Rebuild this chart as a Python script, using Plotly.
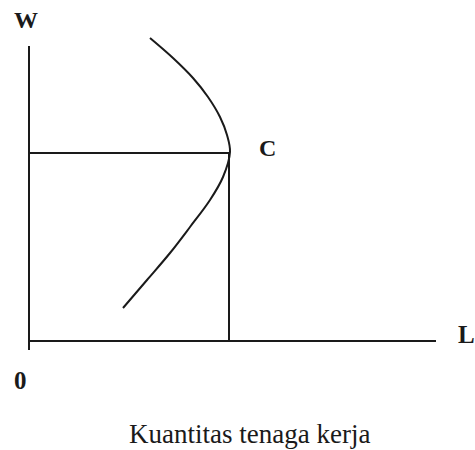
import plotly.graph_objects as go

# labour supply curve (backward bending), L on x, W on y
supply_L = [121, 144, 164, 179, 191, 198, 201, 194, 181, 161, 141, 118, 94]
supply_W = [303, 283, 263, 244, 224, 206, 189, 164, 141, 114, 88, 61, 33]

# equilibrium point C
c_L = 200
c_W = 188

# axis extents
w_axis_top = 295
w_axis_bottom = -9
l_axis_end = 407

serif = "Liberation Serif, Times New Roman, serif"
ink = "#1a1a1a"

fig = go.Figure()

# axes
fig.add_trace(go.Scatter(x=[0, 0], y=[w_axis_top, w_axis_bottom], mode="lines",
                         line=dict(color=ink, width=2)))
fig.add_trace(go.Scatter(x=[0, l_axis_end], y=[0, 0], mode="lines",
                         line=dict(color=ink, width=2)))

# guide lines to C
fig.add_trace(go.Scatter(x=[0, c_L, c_L], y=[c_W, c_W, 0], mode="lines",
                         line=dict(color=ink, width=2)))

# supply curve
fig.add_trace(go.Scatter(x=supply_L, y=supply_W, mode="lines",
                         line=dict(color=ink, width=2, shape="spline", smoothing=1)))

labels = [
    dict(x=-3, y=321, text="<b>W</b>", size=24),
    dict(x=238, y=193, text="<b>C</b>", size=24),
    dict(x=437, y=7, text="<b>L</b>", size=25),
    dict(x=-9, y=-39, text="<b>0</b>", size=25),
    dict(x=220, y=-93, text="Kuantitas tenaga kerja", size=27),
]
for lb in labels:
    fig.add_annotation(x=lb["x"], y=lb["y"], text=lb["text"], showarrow=False,
                       xanchor="center", yanchor="middle",
                       font=dict(family=serif, size=lb["size"], color=ink))

fig.update_layout(
    width=475,
    height=450,
    margin=dict(l=0, r=0, t=0, b=0),
    plot_bgcolor="white",
    paper_bgcolor="white",
    showlegend=False,
    hovermode=False,
    xaxis=dict(range=[-29, 446], visible=False, fixedrange=True),
    yaxis=dict(range=[-109, 341], visible=False, fixedrange=True),
)

# drop the default page margin so the figure sits at the top-left corner
fig.write_html("out.html", config={"displayModeBar": False},
               post_script="document.body.style.margin='0';")
